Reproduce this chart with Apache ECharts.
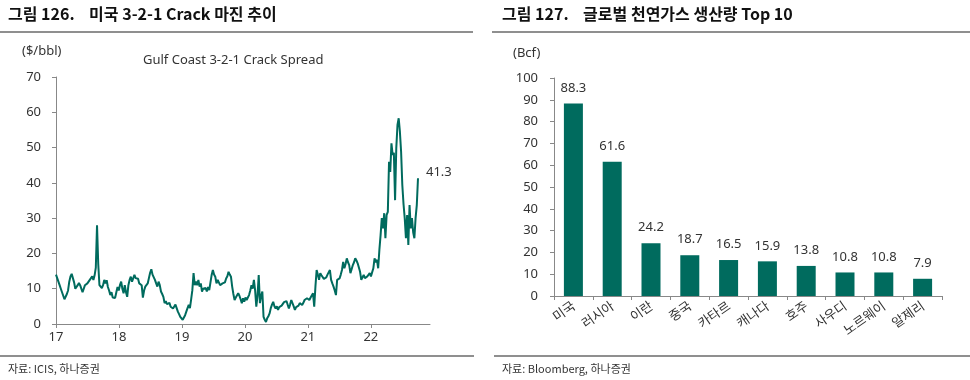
<!DOCTYPE html>
<html>
<head>
<meta charset="utf-8">
<script src="https://cdn.jsdelivr.net/npm/echarts@6/dist/echarts.min.js"></script>
<style>
html,body{margin:0;padding:0;background:#fff;}
#c{width:970px;height:380px;}
</style>
</head>
<body>
<div id="c"></div>
<script>
// ---- Left chart: Gulf Coast 3-2-1 Crack Spread, weekly values from first week of 2017 ----
const crackStartYear = 17;
const weeksPerYear = 52.18;
const crack2017 = [14,13,12.5,11,10,9,8,7,6.8,8.5,9.5,12,13.5,14.2,13,11.8,10,9.6,11,11.6,11,10.5,9,10,11,10.5,11.5,12,12.5,13,13.5,12.5,13.8,16,28,17,11,10.5,10.2,11,12.5,11.5,12.4,10.5,9.5,8.2,9,7.5,8,7.4,9,10.5];
const crack2018 = [9.5,11,12,10,8.7,11,9,7.7,11,12.5,13.4,12,11.8,13.9,13,12.5,12.8,11.5,12,11,7.5,9.5,10.6,11,11.5,13,14.5,15.5,14,13.9,12.5,11.5,10.6,12,11,9.2,8.5,7.7,5.9,6.5,5.6,5.4,6,4.9,5.2,4.4,4.9,5.5,4.5,3.5,2.8,2];
const crack2019 = [2.5,1.2,1.6,2.5,3.5,4.5,5.4,4.5,7,9.6,14.4,11,12,11,12.5,10.6,11.5,9.2,10,9.6,10.2,9.2,10.5,9.6,10,13.9,15.3,14,13.4,11.5,12.5,12,11,10.6,11.5,12,11.8,12.9,13.5,14.8,14,13.4,10.6,8.5,6.8,7.5,7.3,8.7,8,7,5.9,7.3];
const crack2020 = [6.3,7.5,6.8,7.5,8.2,9.5,11,10,12.5,9.6,4.9,8,13.9,5.9,8,9.2,2,1.2,0.6,1.6,2.2,3,4.5,5.5,6.3,5,4.4,5,4,4.8,4.4,5.2,5.4,6.2,5.9,6.5,6.8,4.4,5.5,6.8,6.3,5,4,4.8,4.4,5.2,5.9,6.2,5.4,6,6.8,7];
const crack2021 = [7.3,7,6.8,7.5,7.7,8.7,4.9,10.6,15.3,14,12.5,14.4,13.8,13.4,12.8,12.5,13.2,14,14.4,15.3,12.5,11.5,10.6,9.5,8.2,12.5,12,12.9,14,15.3,17.6,15.8,17,18.6,17.5,16.7,14.4,15.5,16.7,17.5,18.6,18,17.2,16,14.8,12.5,13.2,13.9,13,12.9,13.5,13.9];
const crack2022 = [14.4,13.5,13.9,15.8,18.6,17.5,18.2,15.8,21,25.2,30,27.1,31.4,24.3,30.9,31.8,46,43.1,51.2,47.9,48.5,35.1,49.8,56.4,58.3,54.5,48.8,39.4,34,30,24.3,30.9,22.4,33.7,27.1,30,26,24.3,30,33.7,41.3];
const crackYearTicks = [17,18,19,20,21,22];
const crackYTicks = [0,10,20,30,40,50,60,70];

// ---- Right chart: global natural gas production top 10 ----
const gasCountries = ['미국','러시아','이란','중국','카타르','캐나다','호주','사우디','노르웨이','알제리'];
const gasValues = [88.3,61.6,24.2,18.7,16.5,15.9,13.8,10.8,10.8,7.9];

const crackAll = [].concat(crack2017,crack2018,crack2019,crack2020,crack2021,crack2022);
const crackData = crackAll.map((v,i)=>[crackStartYear + i/weeksPerYear, v]);

const GREEN = '#006B5E';
const TXT = '#333';
const FONT = '"Noto Sans","Noto Sans CJK KR",sans-serif';
const KFONT = '"Noto Sans CJK KR","Noto Sans",sans-serif';
const RULE = '#8f8f8f';

const chart = echarts.init(document.getElementById('c'), null, {renderer:'canvas'});
chart.setOption({
  backgroundColor:'#fff',
  animation:false,
  textStyle:{fontFamily:FONT},
  grid:[
    {left:56, top:77, width:374, height:247},
    {left:554, top:78, width:388, height:218}
  ],
  xAxis:[
    {gridIndex:0, type:'value', min:17, max:22.94,
     axisLine:{show:true, lineStyle:{color:'#888', width:1}},
     axisTick:{show:true, length:4, customValues:crackYearTicks, lineStyle:{color:'#888'}},
     axisLabel:{customValues:crackYearTicks, color:TXT, fontSize:13, margin:7, fontFamily:FONT,
       formatter:v=>String(Math.round(v))},
     splitLine:{show:false}},
    {gridIndex:1, type:'category', data:gasCountries, boundaryGap:true,
     axisLine:{show:true, lineStyle:{color:'#888', width:1}},
     axisTick:{show:true, length:4, lineStyle:{color:'#888'}},
     axisLabel:{rotate:35, color:TXT, fontSize:13, margin:8, fontFamily:KFONT, interval:0},
     splitLine:{show:false}}
  ],
  yAxis:[
    {gridIndex:0, type:'value', min:0, max:70, interval:10,
     axisLine:{show:true, lineStyle:{color:'#888', width:1}},
     axisTick:{show:true, length:4, lineStyle:{color:'#888'}},
     axisLabel:{color:TXT, fontSize:13, margin:15, fontFamily:FONT},
     splitLine:{show:false}},
    {gridIndex:1, type:'value', min:0, max:100, interval:10,
     axisLine:{show:true, lineStyle:{color:'#888', width:1}},
     axisTick:{show:true, length:4, lineStyle:{color:'#888'}},
     axisLabel:{color:TXT, fontSize:13, margin:16, fontFamily:FONT},
     splitLine:{show:false}}
  ],
  series:[
    {type:'line', xAxisIndex:0, yAxisIndex:0, data:crackData, showSymbol:false, symbol:'none',
     lineStyle:{color:GREEN, width:2}, itemStyle:{color:GREEN},
     endLabel:{show:true, color:TXT, fontSize:13, fontFamily:FONT, distance:6, offset:[2,-6],
       formatter:p=>String(p.value[1])}},
    {type:'bar', xAxisIndex:1, yAxisIndex:1, data:gasValues, barWidth:19,
     itemStyle:{color:GREEN},
     label:{show:true, position:'top', distance:9, color:TXT, fontSize:13, fontFamily:FONT,
       formatter:p=>p.value.toFixed(1)}}
  ],
  graphic:[
    {type:'text', left:8, top:6, style:{text:'그림 126.    미국 3-2-1 Crack 마진 추이', fill:'#111', font:'bold 16px '+KFONT}},
    {type:'text', left:502, top:6, style:{text:'그림 127.    글로벌 천연가스 생산량 Top 10', fill:'#111', font:'bold 16px '+KFONT}},
    {type:'rect', shape:{x:0, y:31, width:473, height:2}, style:{fill:RULE}},
    {type:'rect', shape:{x:492, y:31, width:478, height:2}, style:{fill:RULE}},
    {type:'rect', shape:{x:0, y:355, width:474, height:2}, style:{fill:RULE}},
    {type:'rect', shape:{x:494, y:355, width:476, height:2}, style:{fill:RULE}},
    {type:'text', left:22, top:45, style:{text:'($/bbl)', fill:TXT, font:'13px '+FONT}},
    {type:'text', left:143, top:54, style:{text:'Gulf Coast 3-2-1 Crack Spread', fill:TXT, font:'13px '+FONT}},
    {type:'text', left:513, top:47, style:{text:'(Bcf)', fill:TXT, font:'13px '+FONT}},
    {type:'text', left:8, top:363, style:{text:'자료: ICIS, 하나증권', fill:TXT, font:'11px '+KFONT}},
    {type:'text', left:502, top:363, style:{text:'자료: Bloomberg, 하나증권', fill:TXT, font:'11px '+KFONT}}
  ]
});
</script>
</body>
</html>
